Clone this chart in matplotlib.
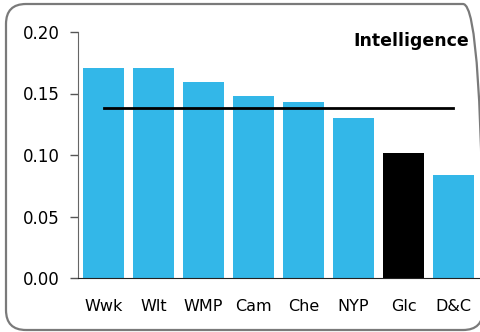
import matplotlib
matplotlib.use("Agg")
import matplotlib.pyplot as plt
from matplotlib.patches import FancyBboxPatch

plt.rcParams['font.family'] = ['DejaVu Sans']

categories = ["Wwk", "Wlt", "WMP", "Cam", "Che", "NYP", "Glc", "D&C"]
values = [0.171, 0.171, 0.159, 0.148, 0.143, 0.130, 0.102, 0.084]
highlight = "Glc"
average = 0.1385
yticks = [0.00, 0.05, 0.10, 0.15, 0.20]
title = "Intelligence"

blue = "#33B7E8"
colors = ["black" if c == highlight else blue for c in categories]

W, H = 481, 332
fig = plt.figure(figsize=(W / 100, H / 100), dpi=100)

# background layer in pixel units, holding the rounded frame
bg = fig.add_axes([0, 0, 1, 1], zorder=0)
bg.set_xlim(0, W)
bg.set_ylim(0, H)
bg.axis("off")
bg.add_patch(FancyBboxPatch((6, 2), 477, 326,
                            boxstyle="round,pad=0,rounding_size=20",
                            facecolor="none", edgecolor="#7a7a7a",
                            linewidth=1.6, clip_on=False))

ax = fig.add_axes([78 / W, 54 / H, 403 / W, 246 / H], zorder=1)
ax.patch.set_alpha(0)
x = list(range(len(categories)))
ax.bar(x, values, width=0.82, color=colors, zorder=2)
ax.plot([0, len(categories) - 1], [average, average], color="black", lw=2, zorder=3)

ax.set_xlim(-0.51, 7.55)
ax.set_ylim(0, 0.20)
ax.set_yticks(yticks)
ax.set_yticklabels([f"{v:.2f}" for v in yticks], fontsize=12)
ax.set_xticks(x)
ax.set_xticklabels(categories, fontsize=11.5)
ax.tick_params(axis="x", length=0, pad=15)
ax.tick_params(axis="y", length=6, width=1, color="#555555", pad=7)

for s in ["top", "right"]:
    ax.spines[s].set_visible(False)
ax.spines["left"].set_color("#666666")
ax.spines["bottom"].set_color("#222222")

fig.text(469 / W, 1 - 41 / H, title, ha="right", va="center",
         fontsize=12.5, fontweight="bold")

fig.savefig("out.png", dpi=100)
